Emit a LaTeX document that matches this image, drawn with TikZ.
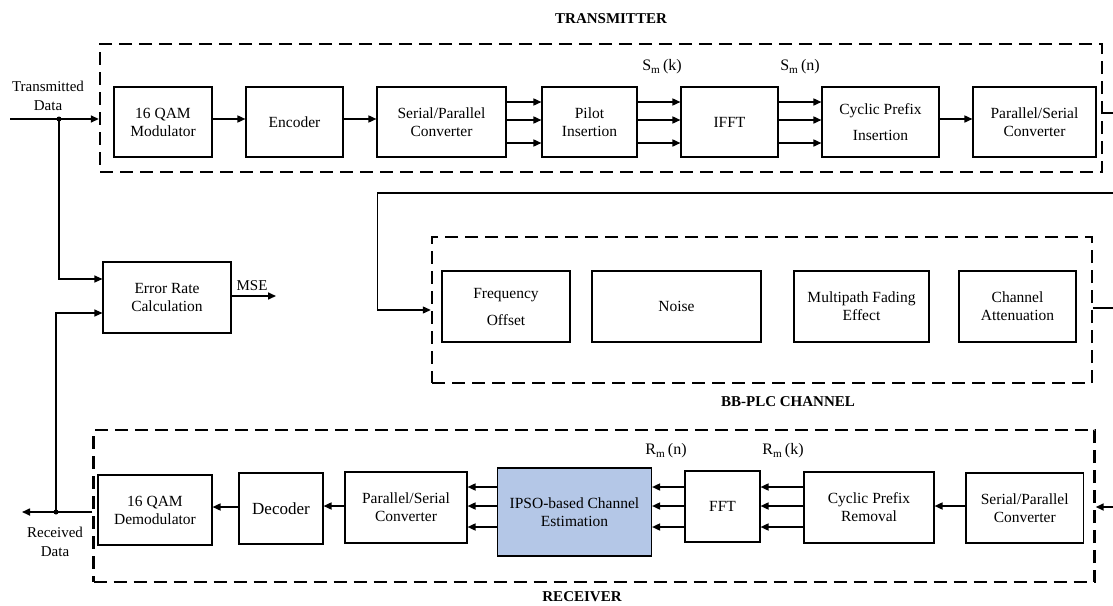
\documentclass[tikz,border=0pt]{standalone}
\usepackage{fontspec}
\setmainfont{Liberation Serif}
\usetikzlibrary{arrows.meta}
\definecolor{ipsoblue}{RGB}{180,199,231}
\tikzset{
 box/.style={draw, line width=1.1pt, align=center, inner sep=2pt, font=\fontsize{15.5}{18}\selectfont},
 dbox/.style={draw, line width=2.4pt, dash pattern=on 13pt off 7pt},
 arr/.style={line width=1.6pt, -{Triangle[length=8pt,width=7pt]}},
 wire/.style={line width=1.1pt},
 warr/.style={wire, -{Triangle[length=8pt,width=7pt]}},
 ttl/.style={font=\bfseries\fontsize{15}{18}\selectfont},
 lbl/.style={font=\fontsize{15}{19}\selectfont, align=center},
 sig/.style={font=\fontsize{16}{19}\selectfont},
 jdot/.style={circle, fill, inner sep=0pt, minimum size=5pt},
}
\begin{document}
\begin{tikzpicture}[x=1pt,y=-1pt]
\fill[white] (0,0) rectangle (1113,605);
\useasboundingbox (0,0) rectangle (1113,605);

% ---------- titles ----------
\node[ttl] (ttx) at (611,19) {TRANSMITTER};
\node[ttl] (tch) at (788,402) {BB-PLC CHANNEL};
\node[ttl] (trx) at (582,597) {RECEIVER};

% ---------- dashed groups ----------
\node[dbox, minimum width=1002pt, minimum height=128pt] (tx) at (601,108) {};
\node[dbox, minimum width=660pt, minimum height=146pt] (ch) at (762,310) {};
\node[dbox, minimum width=1001pt, minimum height=152pt] (rx) at (594,506) {};

% ---------- transmitter ----------
\node[box, minimum width=98pt, minimum height=70pt] (mod) at (163,122) {16 QAM\\Modulator};
\node[box, minimum width=97pt, minimum height=70pt] (enc) at (294.5,122) {Encoder};
\node[box, minimum width=129pt, minimum height=70pt] (sp) at (441.5,122) {Serial/Parallel\\Converter};
\node[box, minimum width=95pt, minimum height=70pt] (pil) at (589.5,122) {Pilot\\Insertion};
\node[box, minimum width=97pt, minimum height=70pt] (ifft) at (729.5,122) {IFFT};
\node[box, minimum width=117pt, minimum height=70pt] (cpi) at (880.5,122) {Cyclic Prefix\\[8pt]Insertion};
\node[box, minimum width=123pt, minimum height=70pt] (ps) at (1034.5,122) {Parallel/Serial\\Converter};

\draw[arr] (mod.east |- 0,119) -- (enc.west |- 0,119);
\draw[arr] (enc.east |- 0,119) -- (sp.west |- 0,119);
\foreach \yy in {102,120,143} {
  \draw[arr] (sp.east |- 0,\yy) -- (pil.west |- 0,\yy);
  \draw[arr] (pil.east |- 0,\yy) -- (ifft.west |- 0,\yy);
  \draw[arr] (ifft.east |- 0,\yy) -- (cpi.west |- 0,\yy);
}
\draw[arr] (cpi.east |- 0,119) -- (ps.west |- 0,119);

\node[sig] (smk) at (662,67) {S\textsubscript{m}\,(k)};
\node[sig] (smn) at (800,67) {S\textsubscript{m}\,(n)};

% input
\node[lbl] (tdl) at (48,96) {Transmitted\\Data};
\coordinate (tin) at (10,119);
\node[jdot] (tj) at (59,119) {};
\draw[arr] (tin) -- (tx.west |- tin);
% output of transmitter
\coordinate (txo) at (1113,113);
\draw[wire] (tx.east |- txo) -- (txo);

% ---------- channel ----------
\node[box, minimum width=128pt, minimum height=71pt] (fo) at (506,306.5) {Frequency\\[9pt]Offset};
\node[box, minimum width=169pt, minimum height=71pt] (noise) at (676.5,306.5) {Noise};
\node[box, minimum width=135pt, minimum height=71pt] (mp) at (861.5,306.5) {Multipath Fading\\Effect};
\node[box, minimum width=117pt, minimum height=71pt] (ca) at (1017.5,306.5) {Channel\\Attenuation};

\coordinate (c1) at (1113,193);
\coordinate (c2) at (377.5,193);
\draw[warr] (c1) -- (c2) |- (ch.west |- 0,310);
\coordinate (co) at (1113,308);
\draw[wire] (ch.east |- co) -- (co);

% ---------- error rate ----------
\node[box, minimum width=128pt, minimum height=71pt] (err) at (167,297.5) {Error Rate\\Calculation};
\draw[warr] (tj.center) -- (tj |- 0,279) -- (err.west |- 0,279);
\coordinate (mse) at (276,296);
\draw[arr] (err.east |- mse) -- (mse);
\node[lbl] (msel) at (252,286) {MSE};

% ---------- receiver ----------
\node[box, minimum width=114pt, minimum height=70pt] (dem) at (155,510) {16 QAM\\Demodulator};
\node[box, font=\fontsize{17}{20}\selectfont, minimum width=84pt, minimum height=71pt] (dec) at (281,508.5) {Decoder};
\node[box, minimum width=122pt, minimum height=71pt] (ps2) at (406,507.5) {Parallel/Serial\\Converter};
\node[box, fill=ipsoblue, minimum width=154pt, minimum height=88pt] (ipso) at (574.5,512) {IPSO-based Channel\\Estimation};
\node[box, minimum width=75pt, minimum height=71pt] (fft) at (722.5,506.5) {FFT};
\node[box, minimum width=130pt, minimum height=71pt] (cpr) at (869,507.5) {Cyclic Prefix\\Removal};
\node[box, minimum width=117.5pt, minimum height=70pt] (sp2) at (1024.75,508) {Serial/Parallel\\Converter};

\draw[arr] (sp2.west |- 0,506) -- (cpr.east |- 0,506);
\foreach \yy in {487,506,527} {
  \draw[arr] (cpr.west |- 0,\yy) -- (fft.east |- 0,\yy);
  \draw[arr] (fft.west |- 0,\yy) -- (ipso.east |- 0,\yy);
  \draw[arr] (ipso.west |- 0,\yy) -- (ps2.east |- 0,\yy);
}
\draw[arr] (ps2.west |- 0,506) -- (dec.east |- 0,506);
\draw[arr] (dec.west |- 0,507) -- (dem.east |- 0,507);

\node[sig] (rmn) at (666,451) {R\textsubscript{m}\,(n)};
\node[sig] (rmk) at (783,451) {R\textsubscript{m}\,(k)};

\coordinate (ri) at (1113,507);
\draw[arr] (ri) -- (rx.east |- ri);

\coordinate (ro) at (22,512);
\node[jdot] (rj) at (56,512) {};
\draw[arr] (rx.west |- ro) -- (ro);
\draw[warr] (rj.center) -- (rj |- 0,313) -- (err.west |- 0,313);
\node[lbl] (rdl) at (55,542) {Received\\Data};
\end{tikzpicture}
\end{document}
